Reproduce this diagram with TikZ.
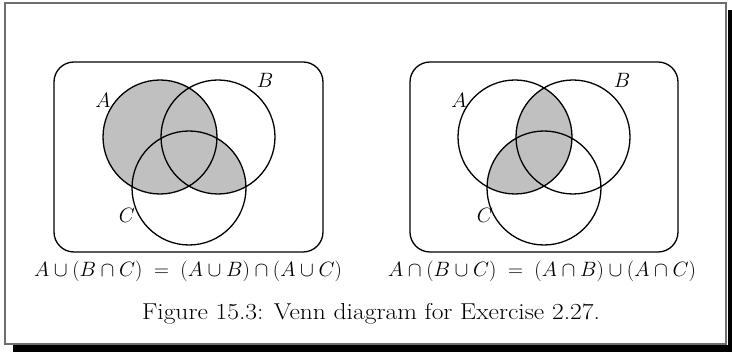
\documentclass[tikz,border=0pt]{standalone}
\usepackage{tikz}
\usetikzlibrary{positioning,calc}
\definecolor{shadegray}{RGB}{192,192,192}
\definecolor{framegray}{RGB}{110,110,110}
\tikzset{
  set/.style={draw=black,line width=1.3pt},
  region/.style={fill=shadegray},
  universe/.style={draw=black,line width=1.3pt,rounded corners=20pt},
  setname/.style={font=\fontsize{21}{24}\selectfont,inner sep=0pt},
  law/.style={font=\fontsize{21.5}{24}\selectfont,inner sep=0pt},
  caption/.style={font=\fontsize{23}{27}\selectfont,inner sep=0pt},
}
\begin{document}
\begin{tikzpicture}[x=1pt,y=-1pt]
  \useasboundingbox (0,0) rectangle (732,352);
  % page frame with its shadow
  \fill[black] (13,10) rectangle (732,352);
  \fill[white] (5,3) rectangle (728,345);
  \draw[framegray,line width=1.5pt] (5,3) rectangle (726,344);

  % left: A u (B n C)
  \coordinate (lA) at (160,137);
  \coordinate (lB) at (218,137);
  \coordinate (lC) at (189,188);
  \draw[universe] (54,62) rectangle (323,252);
  \fill[region] (lA) circle[radius=57pt];
  \begin{scope}
    \clip (lB) circle[radius=57pt];
    \fill[region] (lC) circle[radius=57pt];
  \end{scope}
  \foreach \s in {lA,lB,lC} \draw[set] (\s) circle[radius=57pt];
  \node[setname] (lAname) at (103,100) {$A$};
  \node[setname] (lBname) at (265,80) {$B$};
  \node[setname] (lCname) at (127,215) {$C$};
  \node[law] (llaw) at (188,271) {$A\cup(B\cap C)\;=\;(A\cup B)\cap(A\cup C)$};

  % right: A n (B u C)
  \coordinate (rA) at (515,137);
  \coordinate (rB) at (573,137);
  \coordinate (rC) at (544,188);
  \draw[universe] (410,62) rectangle (678,252);
  \begin{scope}
    \clip (rA) circle[radius=57pt];
    \fill[region] (rB) circle[radius=57pt];
    \fill[region] (rC) circle[radius=57pt];
  \end{scope}
  \foreach \s in {rA,rB,rC} \draw[set] (\s) circle[radius=57pt];
  \node[setname] (rAname) at (459,100) {$A$};
  \node[setname] (rBname) at (622,80) {$B$};
  \node[setname] (rCname) at (485,215) {$C$};
  \node[law] (rlaw) at (542,271) {$A\cap(B\cup C)\;=\;(A\cap B)\cup(A\cap C)$};

  \node[caption] (cap) at (371,314) {\scalebox{1.11}[1]{Figure 15.3: Venn diagram for Exercise 2.27.}};
\end{tikzpicture}
\end{document}
